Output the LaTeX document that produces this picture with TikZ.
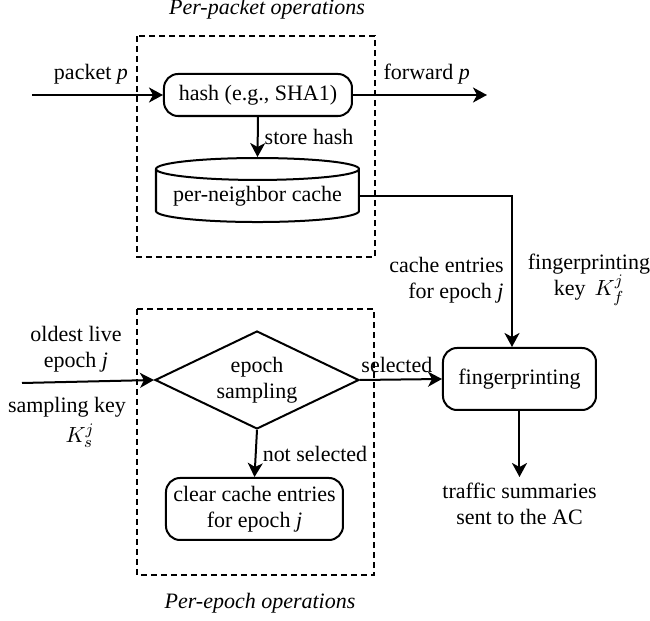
\documentclass[tikz,border=0pt]{standalone}
\usepackage{fontspec}
\setmainfont{Liberation Serif}
\usetikzlibrary{arrows.meta, positioning, shapes.geometric, calc}

\begin{document}
\begin{tikzpicture}[x=0.5pt, y=-0.5pt, font=\fontsize{11}{13}\selectfont,
    arr/.style={line width=1pt, -{Stealth[length=7pt, width=7.5pt, inset=2pt]}},
    opsbox/.style={draw, line width=0.9pt, dash pattern=on 3pt off 2pt},
    roundbox/.style={draw, line width=1pt, rounded corners=7pt, align=center, inner sep=1pt},
    cachecyl/.style={draw, line width=1pt, cylinder, shape border rotate=90, aspect=0.13, minimum width=101.5pt, minimum height=32pt, inner sep=0pt},
    samplediam/.style={draw, line width=1pt, diamond, aspect=2.1, align=center, inner sep=1pt, minimum width=102pt, minimum height=49pt},
    lbl/.style={align=center, inner sep=1pt}]
\useasboundingbox (0,0) rectangle (650,621);

\draw[opsbox] (137,36) rectangle (375,257);
\draw[opsbox] (137,309) rectangle (374,575);
\node[lbl, font=\fontsize{11}{13}\selectfont\itshape] (ppkt) at (267,9) {Per-packet operations};
\node[lbl, font=\fontsize{11}{13}\selectfont\itshape] (pepoch) at (260,603) {Per-epoch operations};

\node[roundbox, minimum width=94pt, minimum height=21pt] (hash) at (258,95) {hash (e.g., SHA1)};
\node[cachecyl] (cache) at (257.5,196) {per-neighbor cache};
\node[samplediam] (sampling) at (257,380) {epoch\\sampling};
\node[roundbox, minimum width=88.5pt, minimum height=31pt] (clear) at (254.5,509) {clear cache entries\\for epoch \textit{j}};
\node[roundbox, minimum width=76.5pt, minimum height=31pt] (fp) at (519.5,379) {fingerprinting};

\coordinate (pin) at (32,95);
\coordinate (pout) at (487,95);
\coordinate (ein) at (22,383);
\coordinate (sumout) at (519.5,477);

\draw[arr] (pin) -- (hash.west) node[lbl, pos=0.45, above=4pt] {packet \textit{p}};
\draw[arr] (hash.east) -- (pout) node[lbl, pos=0.55, above=4pt] {forward \textit{p}};
\draw[arr] (hash.south) -- (cache.north) node[lbl, midway, right=2pt] {store hash};
\draw[arr] (cache.east) -| ([xshift=-3.75pt]fp.north);
\draw[arr] (ein) -- (sampling.west);
\draw[arr] (sampling.east) -- (fp.west) node[lbl, pos=0.45, above=2pt] {selected};
\draw[arr] (sampling.south) -- (clear.north) node[lbl, midway, right=2pt] {not selected};
\draw[arr] (fp.south) -- (sumout);

\node[lbl, align=right, anchor=east] (entries) at (506,280) {cache entries\\for epoch \textit{j}};
\node[lbl] (fpkey) at (589,280) {fingerprinting\\key~\,$K_f^j$};
\node[lbl] (oldest) at (76,349) {oldest live\\epoch \textit{j}};
\node[lbl, inner sep=0pt] (skey) at (67,407) {sampling key};
\node[lbl, inner sep=0pt] (skeysym) at (80,436) {$K_s^j$};
\node[lbl, below=2pt of sumout] (summary) {traffic summaries\\sent to the AC};
\end{tikzpicture}
\end{document}
